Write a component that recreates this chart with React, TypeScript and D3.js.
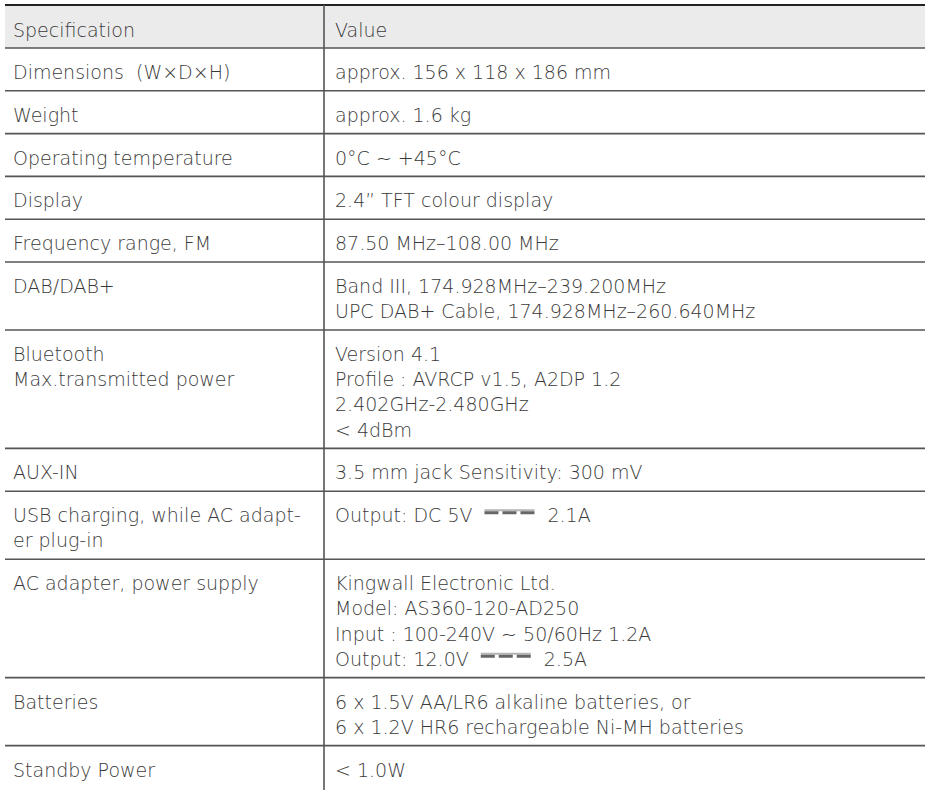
import React, { useEffect, useRef } from "react";
import * as d3 from "d3";

const headers = ["Specification", "Value"];

const specNames: string[][] = [
  ["Dimensions  (W×D×H)"],
  ["Weight"],
  ["Operating temperature"],
  ["Display"],
  ["Frequency range, FM"],
  ["DAB/DAB+"],
  ["Bluetooth", "Max.transmitted power"],
  ["AUX-IN"],
  ["USB charging, while AC adapt-", "er plug-in"],
  ["AC adapter, power supply"],
  ["Batteries"],
  ["Standby Power"],
];

const specValues: string[][] = [
  ["approx. 156 x 118 x 186 mm"],
  ["approx. 1.6 kg"],
  ["0°C ~ +45°C"],
  ["2.4” TFT colour display"],
  ["87.50 MHz–108.00 MHz"],
  ["Band III, 174.928MHz–239.200MHz", "UPC DAB+ Cable, 174.928MHz–260.640MHz"],
  ["Version 4.1", "Profile : AVRCP v1.5, A2DP 1.2", "2.402GHz-2.480GHz", "< 4dBm"],
  ["3.5 mm jack Sensitivity: 300 mV"],
  ["Output: DC 5V {DC} 2.1A"],
  ["Kingwall Electronic Ltd.", "Model: AS360-120-AD250", "Input : 100-240V ~ 50/60Hz 1.2A", "Output: 12.0V {DC} 2.5A"],
  ["6 x 1.5V AA/LR6 alkaline batteries, or", "6 x 1.2V HR6 rechargeable Ni-MH batteries"],
  ["< 1.0W"],
];

const W = 930;
const H = 790;
const FONT = "'DejaVu Sans', Lato, sans-serif";

export default function App() {
  const ref = useRef<SVGSVGElement | null>(null);

  useEffect(() => {
    const svg = d3.select(ref.current);
    svg.selectAll("*").remove();

    const left = 5;
    const right = 925;
    const divider = 324;
    const headerTop = 5;
    const headerH = 43;
    const singleH = 42.8;
    const lineStep = 25.2;
    const textColor = "#3a3a3a";
    const lineColor = "#555";
    const fontSize = 19;

    const nLines = specNames.map((n, i) => Math.max(n.length, specValues[i].length));
    const heights = nLines.map((n) => singleH + lineStep * (n - 1));
    const tops: number[] = [];
    let acc = headerTop + headerH;
    heights.forEach((h) => {
      tops.push(acc);
      acc += h;
    });

    svg.append("rect").attr("x", left).attr("y", headerTop).attr("width", right - left)
      .attr("height", headerH).attr("fill", "#ebebeb");

    svg.append("line").attr("x1", left).attr("x2", right).attr("y1", headerTop).attr("y2", headerTop)
      .attr("stroke", "#222").attr("stroke-width", 2);

    svg.append("line").attr("x1", left).attr("x2", right)
      .attr("y1", headerTop + headerH).attr("y2", headerTop + headerH)
      .attr("stroke", lineColor).attr("stroke-width", 1.6);

    svg.selectAll("line.sep").data(tops.slice(1)).enter().append("line")
      .attr("class", "sep")
      .attr("x1", left).attr("x2", right)
      .attr("y1", (d) => d).attr("y2", (d) => d)
      .attr("stroke", lineColor).attr("stroke-width", 1.6);

    svg.append("line").attr("x1", divider).attr("x2", divider)
      .attr("y1", headerTop).attr("y2", H)
      .attr("stroke", lineColor).attr("stroke-width", 1.6);

    const addText = (x: number, y: number, s: string) =>
      svg.append("text").attr("x", x).attr("y", y)
        .attr("font-family", FONT).attr("font-weight", 200)
        .attr("font-size", fontSize).attr("fill", textColor)
        .style("white-space", "pre")
        .text(s);

    addText(13, headerTop + 32, headers[0]);
    addText(335, headerTop + 32, headers[1]);

    const drawDC = (x: number, baseline: number) => {
      const g = svg.append("g");
      const w = 50;
      g.append("line").attr("x1", x).attr("x2", x + w)
        .attr("y1", baseline - 12).attr("y2", baseline - 12)
        .attr("stroke", "#b5b5b5").attr("stroke-width", 2);
      g.append("line").attr("x1", x).attr("x2", x + w)
        .attr("y1", baseline - 9.5).attr("y2", baseline - 9.5)
        .attr("stroke", "#666").attr("stroke-width", 3)
        .attr("stroke-dasharray", "14 4");
      return w;
    };

    specNames.forEach((lines, i) => {
      lines.forEach((s, j) => addText(13, tops[i] + 31 + j * lineStep, s));
    });

    specValues.forEach((lines, i) => {
      lines.forEach((s, j) => {
        const y = tops[i] + 31 + j * lineStep;
        if (s.includes("{DC}")) {
          const [a, b] = s.split("{DC}");
          const t1 = addText(335, y, a.trimEnd());
          const w1 = (t1.node() as SVGTextElement).getComputedTextLength();
          const x2 = 335 + w1 + 12;
          const w = drawDC(x2, y);
          addText(x2 + w + 13, y, b.trim());
        } else {
          addText(335, y, s);
        }
      });
    });
  }, []);

  return (
    <svg
      ref={ref}
      width={W}
      height={H}
      style={{ position: "absolute", left: 0, top: 0, background: "#fff" }}
    />
  );
}
